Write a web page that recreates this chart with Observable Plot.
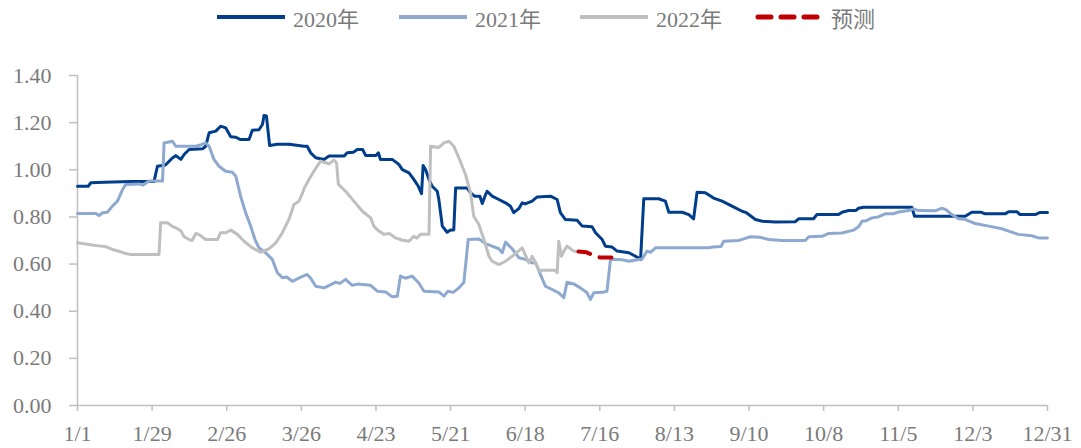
<!DOCTYPE html>
<html><head><meta charset="utf-8">
<script src="https://cdn.jsdelivr.net/npm/d3@7"></script>
<script src="https://cdn.jsdelivr.net/npm/@observablehq/plot@0.6"></script>
<style>
body{margin:0;background:#fff;}
#legend{position:relative;width:1081px;height:36px;font-family:'Liberation Serif','Times New Roman','Noto Sans CJK SC',serif;font-size:22px;color:#7a7a7a;}
.item{position:absolute;top:0;height:34px;display:flex;align-items:center;gap:8px;white-space:nowrap;}
</style></head><body>
<div id="legend"></div><div id="chart"></div>
<script>
// x = day of year (0 = 1/1, 364 = 12/31)
const xTickDays = [0,28,56,84,112,140,168,196,224,252,280,308,336,364];
const xTickLabels = ["1/1","1/29","2/26","3/26","4/23","5/21","6/18","7/16","8/13","9/10","10/8","11/5","12/3","12/31"];
const yTicks = [0,0.2,0.4,0.6,0.8,1.0,1.2,1.4];
const seriesNames = ["2020年","2021年","2022年","预测"];

const s2020 = [[0,0.93],[4,0.93],[5,0.945],[10,0.947],[20,0.95],[28.7,0.95],[30,1.015],[33,1.02],[35.6,1.05],[36.9,1.06],[38.8,1.044],[40,1.065],[41.9,1.086],[46.9,1.089],[48.1,1.10],[49.4,1.157],[51.9,1.164],[53.7,1.185],[55.6,1.178],[57.5,1.14],[59.4,1.138],[61,1.129],[64.4,1.129],[65.6,1.168],[68.1,1.17],[69.4,1.192],[70,1.23],[70.9,1.228],[72.1,1.103],[75,1.108],[79.4,1.108],[85,1.1],[86.2,1.1],[87.5,1.072],[89.4,1.051],[92.5,1.044],[94.4,1.058],[100,1.058],[101.2,1.072],[103.5,1.074],[105,1.086],[107,1.086],[108.1,1.061],[112,1.061],[112.9,1.072],[113.7,1.044],[118.1,1.044],[120.6,1.023],[121.9,1.001],[124.4,0.987],[126.2,0.959],[127.9,0.93],[129.1,0.899],[129.7,1.018],[130.6,1.001],[131.9,0.959],[133.1,0.93],[135,0.909],[135.6,0.874],[136.9,0.761],[138.7,0.735],[140,0.745],[141.2,0.745],[141.9,0.923],[146.2,0.923],[147.5,0.902],[149,0.888],[151,0.888],[151.9,0.857],[152.9,0.888],[153.7,0.909],[155.6,0.888],[158.1,0.874],[160.6,0.86],[162.5,0.845],[163.7,0.818],[165.6,0.835],[166.9,0.86],[168,0.855],[170.6,0.867],[172.5,0.885],[177.5,0.888],[180,0.874],[181.2,0.818],[183.1,0.789],[187.5,0.786],[189.4,0.761],[193.1,0.758],[194.4,0.733],[196.9,0.704],[198.1,0.676],[200.6,0.672],[202.5,0.655],[206.9,0.648],[209.4,0.633],[211.3,0.62],[212.5,0.877],[218.1,0.877],[220.6,0.867],[221.9,0.82],[226.9,0.82],[229.4,0.81],[231.2,0.792],[232.5,0.905],[235.6,0.903],[238.7,0.88],[241.9,0.867],[245.6,0.846],[249.4,0.824],[251,0.818],[254.4,0.789],[257,0.782],[261.9,0.778],[269.4,0.78],[270.6,0.792],[276.2,0.792],[277.5,0.81],[285.6,0.81],[286.9,0.82],[289.4,0.827],[292,0.827],[293.1,0.837],[295,0.841],[313.1,0.841],[314.1,0.803],[333.1,0.803],[335.6,0.82],[339,0.82],[340.6,0.813],[348.1,0.813],[349.4,0.822],[352.5,0.822],[353.7,0.81],[359.4,0.81],[361.2,0.819],[364,0.819]];

const s2021 = [[0,0.815],[6.9,0.815],[8.1,0.806],[9.5,0.818],[11.2,0.82],[13.1,0.846],[15,0.867],[16.9,0.916],[18.1,0.938],[23.1,0.94],[24.5,0.935],[26.9,0.952],[31.9,0.952],[32.5,1.114],[35.6,1.121],[36.9,1.10],[44.4,1.10],[46,1.105],[48.1,1.114],[49.4,1.10],[51.2,1.044],[53.1,1.015],[55.6,0.994],[58.1,0.99],[59.4,0.973],[61.2,0.888],[63.1,0.818],[65,0.761],[66.6,0.704],[68.1,0.669],[70.6,0.648],[73.1,0.62],[75,0.563],[76.9,0.542],[78.5,0.545],[80.6,0.527],[83,0.54],[86.2,0.556],[87.5,0.54],[89.4,0.506],[92.5,0.499],[94.5,0.51],[96.9,0.523],[98.5,0.518],[100.6,0.535],[103.1,0.51],[105,0.515],[110,0.51],[112.5,0.485],[115.6,0.482],[118.1,0.461],[120,0.463],[121.2,0.549],[123,0.54],[125.6,0.549],[128.1,0.52],[130,0.485],[135.6,0.482],[137.5,0.464],[139,0.485],[141,0.48],[143.1,0.499],[145,0.523],[146.6,0.704],[150.6,0.706],[153.1,0.687],[155.6,0.676],[158.1,0.665],[159.4,0.648],[160.6,0.693],[163.1,0.665],[165.6,0.627],[168.1,0.62],[170.6,0.605],[171.9,0.607],[173.7,0.556],[175.6,0.506],[178.1,0.492],[180.6,0.478],[182.5,0.457],[183.7,0.523],[186.2,0.516],[188.7,0.499],[191.2,0.478],[192.5,0.45],[193.7,0.478],[196.9,0.48],[198.7,0.485],[200,0.62],[204.4,0.618],[206.9,0.612],[210,0.618],[211.9,0.622],[213.7,0.655],[215,0.65],[216.9,0.669],[236.9,0.669],[238.5,0.672],[241.5,0.675],[242.5,0.697],[248.1,0.70],[250,0.707],[252.5,0.716],[256,0.714],[259.4,0.704],[264.4,0.70],[273.1,0.70],[274.4,0.716],[279.4,0.718],[281.9,0.73],[286.9,0.732],[291.2,0.744],[293.1,0.758],[294.4,0.782],[296,0.784],[298.1,0.796],[300.5,0.80],[303.1,0.813],[306,0.813],[308.1,0.821],[311.9,0.827],[313.7,0.834],[315.6,0.827],[321.9,0.826],[324.4,0.837],[326,0.83],[328.1,0.81],[330.6,0.792],[333,0.79],[336.9,0.772],[341.9,0.761],[346.9,0.75],[349.4,0.74],[353.1,0.726],[358.1,0.72],[360.6,0.711],[364,0.711]];

const s2022 = [[0,0.69],[3,0.685],[6.9,0.679],[10.6,0.674],[13.1,0.662],[16.2,0.652],[18.1,0.645],[20,0.641],[30.6,0.641],[31.2,0.775],[33.7,0.775],[35.6,0.76],[37.5,0.75],[38.8,0.74],[40,0.716],[41.9,0.704],[43,0.70],[44.4,0.73],[45.5,0.726],[48.1,0.704],[52.5,0.704],[53.7,0.733],[55.6,0.733],[57.5,0.744],[60,0.726],[62.5,0.697],[65.6,0.669],[68.7,0.65],[71.9,0.665],[74.4,0.69],[76.9,0.733],[79.4,0.792],[80.6,0.83],[81.2,0.853],[83.1,0.867],[84.4,0.90],[85,0.92],[86.9,0.96],[88.7,0.994],[91.2,1.037],[93.1,1.03],[94.4,1.025],[96.2,1.041],[97.2,1.03],[97.9,0.938],[100.6,0.909],[103.7,0.867],[106.9,0.824],[110,0.796],[111.2,0.761],[113.1,0.74],[115,0.726],[117,0.73],[119.4,0.711],[121.9,0.701],[124.4,0.697],[126.2,0.718],[127.3,0.71],[128.7,0.726],[131.9,0.726],[132.5,1.10],[135.6,1.095],[137.5,1.114],[139.4,1.121],[141.2,1.10],[143.1,1.051],[145.6,0.98],[147.5,0.902],[148.7,0.803],[150.6,0.768],[152.5,0.704],[154.4,0.633],[155.6,0.612],[158.1,0.598],[160.6,0.612],[163.1,0.633],[166.9,0.669],[168,0.64],[169.4,0.605],[170.6,0.633],[172.5,0.591],[173.7,0.568],[174.4,0.574],[179.4,0.574],[180,0.563],[180.6,0.697],[181.6,0.633],[182.5,0.655],[183.7,0.676],[186.2,0.655],[187.5,0.652]];

const sForecast = [[188,0.653],[191,0.65],[193.5,0.638],[196,0.628],[203,0.628]];

const colors = ["#003d8a","#8ea9d0","#bfbfbf","#c00000"];
const toRows = (s) => s.map(([day, value]) => ({day, value}));

const chart = Plot.plot({
  width: 1081, height: 412,
  marginTop: 39, marginBottom: 43, marginLeft: 77, marginRight: 34,
  style: {fontFamily: "'Liberation Serif', 'Times New Roman', serif", fontSize: "22px", color: "#7a7a7a", background: "white", overflow: "visible"},
  x: {domain: [0, 364]},
  y: {domain: [0, 1.4]},
  marks: [
    Plot.ruleY([0], {stroke: "#bfbfbf", strokeWidth: 1.5}),
    Plot.ruleX([0], {stroke: "#bfbfbf", strokeWidth: 1.5}),
    Plot.axisX({ticks: xTickDays, tickFormat: (d) => xTickLabels[xTickDays.indexOf(d)], tickSize: 6, tickPadding: 14, stroke: "#bfbfbf", fill: "#7a7a7a", strokeWidth: 1.5, label: null}),
    Plot.axisY({ticks: yTicks, tickFormat: (d) => d.toFixed(2), tickSize: 8, tickPadding: 18, stroke: "#bfbfbf", fill: "#7a7a7a", strokeWidth: 1.5, label: null}),
    Plot.line(toRows(s2020), {x: "day", y: "value", stroke: colors[0], strokeWidth: 3, strokeLinejoin: "round"}),
    Plot.line(toRows(s2021), {x: "day", y: "value", stroke: colors[1], strokeWidth: 3, strokeLinejoin: "round"}),
    Plot.line(toRows(s2022), {x: "day", y: "value", stroke: colors[2], strokeWidth: 3, strokeLinejoin: "round"}),
    Plot.line(toRows(sForecast), {x: "day", y: "value", stroke: colors[3], strokeWidth: 4, strokeDasharray: "12,10", strokeLinecap: "round"})
  ]
});
document.getElementById("chart").appendChild(chart);

// legend
const legend = document.getElementById("legend");
const legendLeft = [217, 399, 580, 755];
seriesNames.forEach((name, i) => {
  const item = document.createElement("div");
  item.className = "item";
  item.style.left = legendLeft[i] + "px";
  const dashed = i === 3;
  item.innerHTML = `<svg width="68" height="8"><line x1="${dashed ? 3 : 0}" y1="4" x2="${dashed ? 65 : 68}" y2="4" stroke="${colors[i]}" stroke-width="${dashed ? 5 : 4}" ${dashed ? 'stroke-dasharray="13,10" stroke-linecap="round"' : ''}/></svg><span>${name}</span>`;
  legend.appendChild(item);
});
</script></body></html>
